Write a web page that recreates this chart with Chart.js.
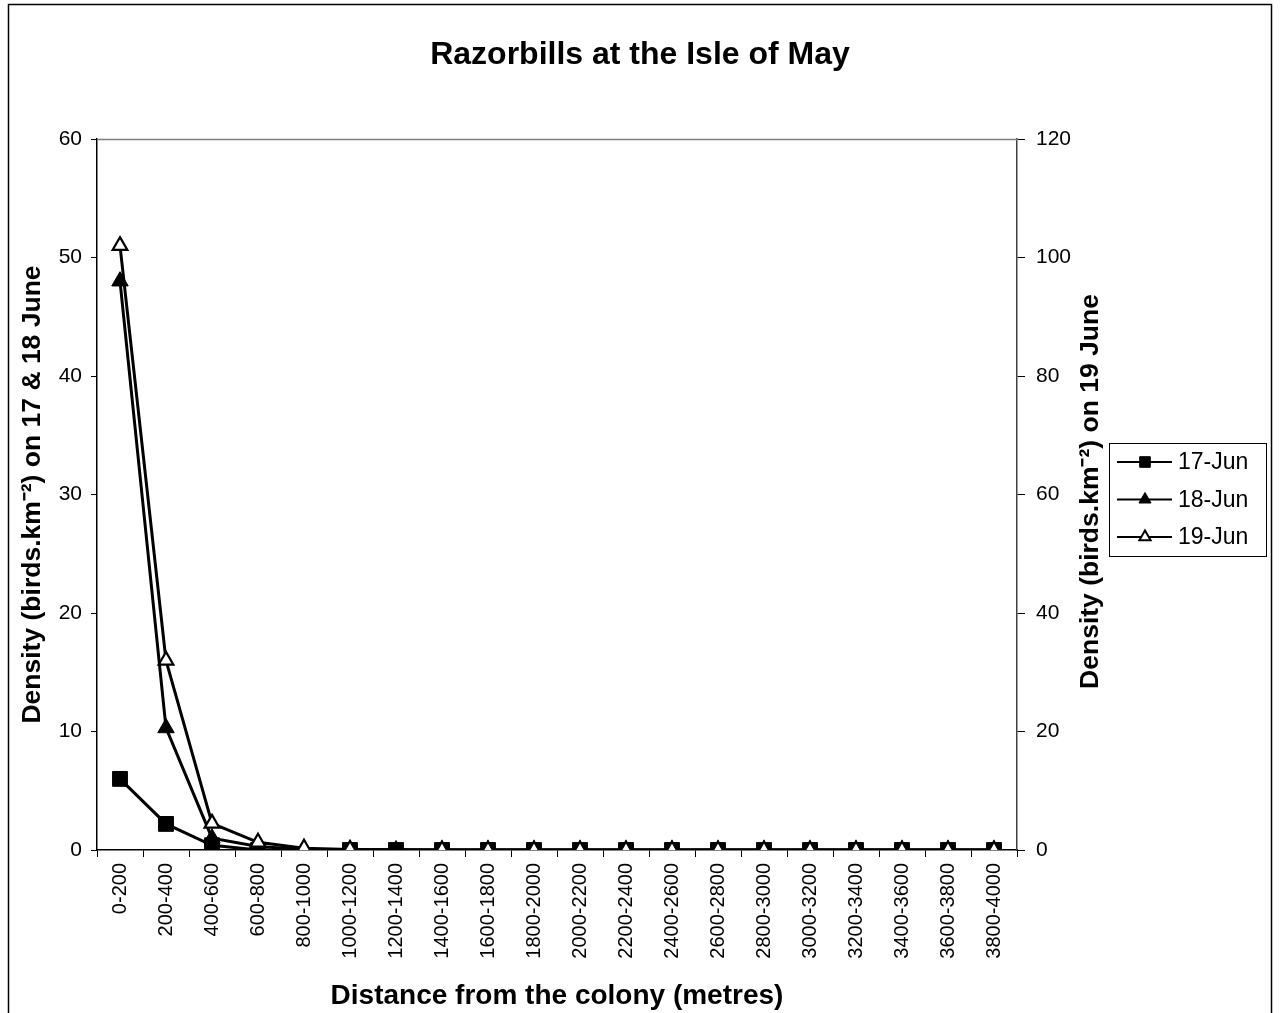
<!DOCTYPE html>
<html>
<head>
<meta charset="utf-8">
<script src="https://cdn.jsdelivr.net/npm/chart.js@4/dist/chart.umd.min.js"></script>
<style>
  html, body { margin: 0; padding: 0; background: #fff; }
  #wrap { width: 1280px; height: 1013px; }
</style>
</head>
<body>
<div id="wrap"><canvas id="chart" width="1280" height="1013"></canvas></div>
<script>
// ── data ────────────────────────────────────────────────────────────────
const distances = ["0-200", "200-400", "400-600", "600-800", "800-1000", "1000-1200",
  "1200-1400", "1400-1600", "1600-1800", "1800-2000", "2000-2200", "2200-2400",
  "2400-2600", "2600-2800", "2800-3000", "3000-3200", "3200-3400", "3400-3600",
  "3600-3800", "3800-4000"];
const jun17 = [6.0, 2.2, 0.4, 0, null, 0, 0, 0, 0, 0, 0, 0, 0, 0, 0, 0, 0, 0, 0, 0];
const jun18 = [48.0, 10.3, 1.0, 0.3, 0.05, 0, 0, 0, 0, 0, 0, 0, 0, 0, 0, 0, 0, 0, 0, 0];
const jun19 = [102, 32, 4.5, 1.3, 0.3, 0.1, null, 0, 0, 0, 0, 0, 0, 0, 0, 0, 0, 0, 0, 0];
const leftTicks  = { min: 0, max: 60, step: 10 };
const rightTicks = { min: 0, max: 120, step: 20 };

const FONT = "Arial, 'Liberation Sans', sans-serif";

// legend swatches: line + marker, like the spreadsheet legend
const legendItems = [
  { label: "17-Jun", style: "rect",     fill: "#000", r: 7.5 },
  { label: "18-Jun", style: "triangle", fill: "#000", r: 7 },
  { label: "19-Jun", style: "triangle", fill: "#fff", r: 6.5 },
];

// ── plugins ─────────────────────────────────────────────────────────────
const decor = {
  id: "decor",
  beforeDraw(chart) {
    const { ctx } = chart;
    ctx.save();
    ctx.fillStyle = "#fff";
    ctx.fillRect(0, 0, chart.width, chart.height);
    ctx.restore();
  },
  afterDraw(chart) {
    const { ctx, chartArea: a } = chart;
    ctx.save();
    // outer frame
    ctx.strokeStyle = "#000";
    ctx.lineWidth = 1.5;
    ctx.strokeRect(8.5, 4.5, 1263, 1030);
    // plot-area top border
    ctx.strokeStyle = "#808080";
    ctx.lineWidth = 1.5;
    ctx.beginPath();
    ctx.moveTo(a.left, a.top + 0.5);
    ctx.lineTo(a.right, a.top + 0.5);
    ctx.stroke();

    // right axis title (reads bottom-to-top)
    ctx.fillStyle = "#000";
    ctx.font = "bold 26.5px " + FONT;
    ctx.textAlign = "center";
    ctx.textBaseline = "middle";
    ctx.translate(1091, (a.top + a.bottom) / 2 - 3);
    ctx.rotate(-Math.PI / 2);
    ctx.fillText("Density (birds.km\u207B\u00B2) on 19 June", 0, 0);
    ctx.setTransform(1, 0, 0, 1, 0, 0);

    // legend
    const lx = 1109, ly = 443, lw = 157, lh = 113;
    ctx.strokeStyle = "#000";
    ctx.lineWidth = 1;
    ctx.strokeRect(lx + 0.5, ly + 0.5, lw, lh);
    ctx.font = "23px " + FONT;
    ctx.textAlign = "left";
    legendItems.forEach((it, i) => {
      const y = ly + 19 + i * 37.5;
      ctx.strokeStyle = "#000";
      ctx.lineWidth = 2;
      ctx.beginPath();
      ctx.moveTo(lx + 8, y);
      ctx.lineTo(lx + 63, y);
      ctx.stroke();
      ctx.fillStyle = it.fill;
      ctx.lineWidth = it.fill === "#fff" ? 2 : 1;
      Chart.helpers.drawPoint(ctx, { pointStyle: it.style, radius: it.r, rotation: 0, borderWidth: ctx.lineWidth }, lx + 36, y);
      ctx.fillStyle = "#000";
      ctx.fillText(it.label, lx + 69, y + 1);
    });
    ctx.restore();
  },
};

// ── chart ───────────────────────────────────────────────────────────────
new Chart(document.getElementById("chart").getContext("2d"), {
  type: "line",
  data: {
    labels: distances,
    datasets: [
      { label: "17-Jun", data: jun17, yAxisID: "y",
        borderColor: "#000", borderWidth: 3, backgroundColor: "#000",
        pointStyle: "rect", pointRadius: 10.5, pointBorderWidth: 1, pointBorderColor: "#000",
        pointBackgroundColor: "#000", spanGaps: true, tension: 0, order: 3 },
      { label: "18-Jun", data: jun18, yAxisID: "y",
        borderColor: "#000", borderWidth: 3, backgroundColor: "#000",
        pointStyle: "triangle", pointRadius: 9.5, pointBorderWidth: 1, pointBorderColor: "#000",
        pointBackgroundColor: "#000", spanGaps: true, tension: 0, order: 2 },
      { label: "19-Jun", data: jun19, yAxisID: "y1",
        borderColor: "#000", borderWidth: 3, backgroundColor: "#fff",
        pointStyle: "triangle", pointRadius: 8.5, pointBorderWidth: 2.2, pointBorderColor: "#000",
        pointBackgroundColor: "#fff", spanGaps: true, tension: 0, order: 1 },
    ],
  },
  options: {
    responsive: false,
    animation: false,
    devicePixelRatio: 1,
    layout: { padding: { left: 8, right: 8, top: 4, bottom: 0 } },
    plugins: {
      legend: { display: false },
      tooltip: { enabled: false },
      title: {
        display: true,
        text: "Razorbills at the Isle of May",
        color: "#000",
        font: { family: FONT, size: 32, weight: "bold" },
        padding: { top: 31.8, bottom: 64.8 },
      },
    },
    scales: {
      x: {
        type: "category",
        offset: true,
        grid: { display: true, drawOnChartArea: false, offset: true, tickLength: 7, color: "#000", lineWidth: 1 },
        border: { color: "#000", width: 1.5 },
        ticks: { color: "#000", font: { family: FONT, size: 20 }, minRotation: 90, maxRotation: 90, padding: 6, autoSkip: false },
        title: { display: true, text: "Distance from the colony (metres)", color: "#000",
          font: { family: FONT, size: 28, weight: "bold" }, padding: { top: 0, bottom: 0 } },
        afterFit: s => { s.height = 163; },
      },
      y: {
        position: "left",
        min: leftTicks.min, max: leftTicks.max,
        grid: { drawOnChartArea: false, tickLength: 6, color: "#000" },
        border: { color: "#000", width: 1.5 },
        ticks: { stepSize: leftTicks.step, color: "#000", font: { family: FONT, size: 21 }, padding: 9 },
        title: { display: true, text: "Density (birds.km\u207B\u00B2) on 17 & 18 June", color: "#000",
          font: { family: FONT, size: 26.5, weight: "bold" }, padding: { top: 9, bottom: 0 } },
        afterFit: s => { s.width = 89; },
      },
      y1: {
        position: "right",
        min: rightTicks.min, max: rightTicks.max,
        grid: { drawOnChartArea: false, tickLength: 8, color: "#000" },
        border: { color: "#404040", width: 1.5 },
        ticks: { stepSize: rightTicks.step, color: "#000", font: { family: FONT, size: 21 }, padding: 11 },
        afterFit: s => { s.width = 255; },
      },
    },
  },
  plugins: [decor],
});
</script>
</body>
</html>
